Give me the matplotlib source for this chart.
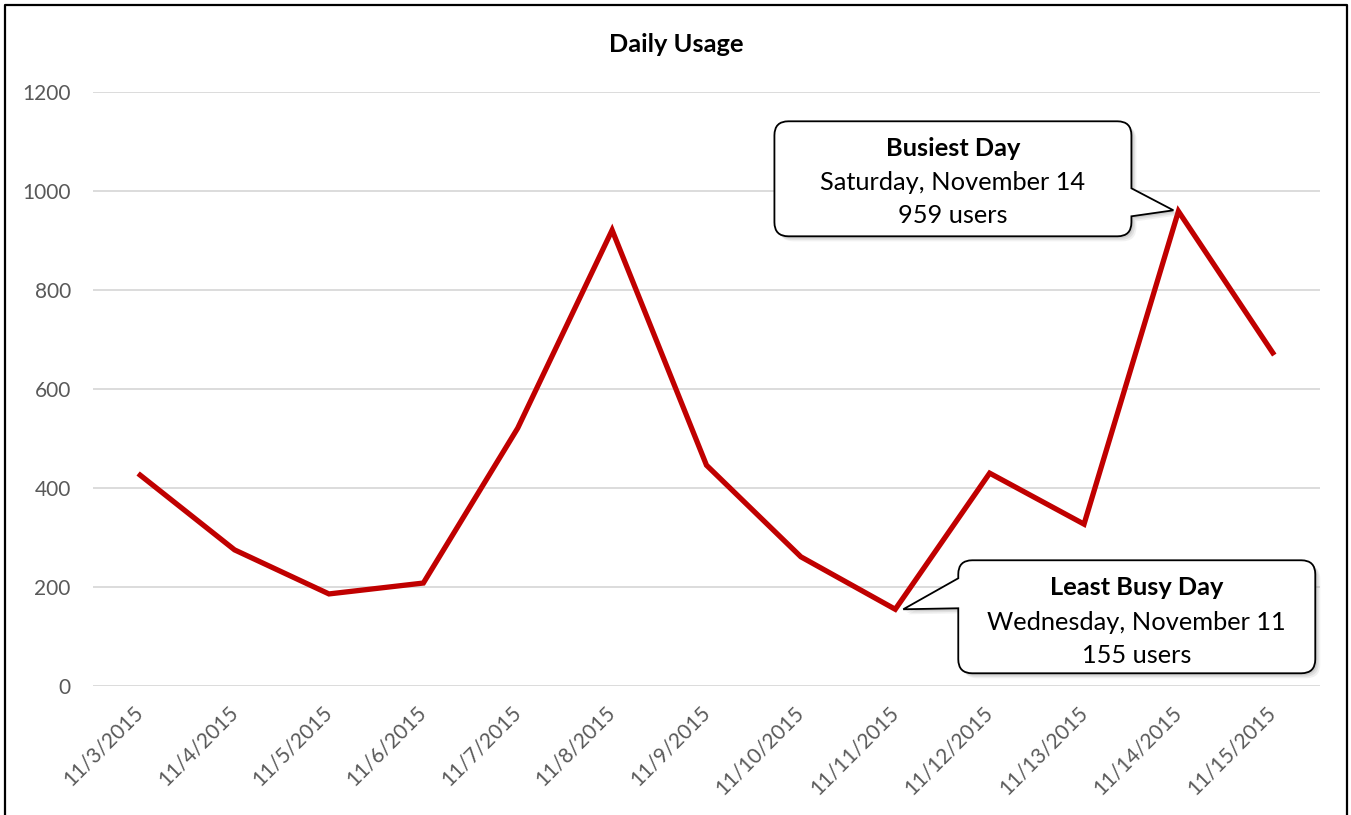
import matplotlib
matplotlib.use("Agg")
import matplotlib.pyplot as plt
from matplotlib.path import Path
from matplotlib.patches import PathPatch
from matplotlib.transforms import ScaledTranslation
from matplotlib.lines import Line2D

dates = ["11/3/2015", "11/4/2015", "11/5/2015", "11/6/2015", "11/7/2015",
         "11/8/2015", "11/9/2015", "11/10/2015", "11/11/2015", "11/12/2015",
         "11/13/2015", "11/14/2015", "11/15/2015"]
users = [426, 275, 186, 208, 521, 921, 446, 261, 155, 430, 327, 959, 673]
y_ticks = [0, 200, 400, 600, 800, 1000, 1200]

plt.rcParams['font.family'] = ['Lato', 'DejaVu Sans']

fig = plt.figure(figsize=(13.51, 8.15), dpi=100)
ax = fig.add_axes([93 / 1351, 1 - 686 / 815, 1227 / 1351, 594 / 815])

x = list(range(len(dates)))
ax.plot(x, users, color="#C00000", lw=3.8, solid_joinstyle="miter", zorder=3)

ax.set_xlim(-0.5, len(dates) - 0.5)
ax.set_ylim(0, 1200)
ax.set_yticks(y_ticks)
ax.set_xticks(x)
ax.set_xticklabels(dates, rotation=45, ha="right", va="center", rotation_mode="anchor")
ax.tick_params(axis="both", length=0, colors="#595959", labelsize=15)
ax.tick_params(axis="y", pad=16)
ax.tick_params(axis="x", pad=17)
ax.grid(axis="y", color="#D9D9D9", lw=1.3)
ax.set_axisbelow(True)
for s in ax.spines.values():
    s.set_visible(False)

fig.text(676 / 1351, 1 - 44 / 815, "Daily Usage", ha="center", va="center",
         fontsize=18.3, fontweight="bold", color="black")


def callout_path(x0, x1, y0, y1, r, side, b_lo, b_hi, tip):
    # rounded box with a pointer on one side, coords in pixels
    v = [(x0 + r, y0), (x1 - r, y0), (x1, y0), (x1, y0 + r)]
    c = [Path.MOVETO, Path.LINETO, Path.CURVE3, Path.CURVE3]
    if side == "right":
        v += [(x1, b_lo), tip, (x1, b_hi)]
        c += [Path.LINETO] * 3
    v += [(x1, y1 - r), (x1, y1), (x1 - r, y1), (x0 + r, y1), (x0, y1), (x0, y1 - r)]
    c += [Path.LINETO, Path.CURVE3, Path.CURVE3, Path.LINETO, Path.CURVE3, Path.CURVE3]
    if side == "left":
        v += [(x0, b_hi), tip, (x0, b_lo)]
        c += [Path.LINETO] * 3
    v += [(x0, y0 + r), (x0, y0), (x0 + r, y0), (x0 + r, y0)]
    c += [Path.LINETO, Path.CURVE3, Path.CURVE3, Path.CLOSEPOLY]
    return Path([(a / 100, b / 100) for a, b in v], c)


def callout(i, box, side, base, tip, lines):
    trans = fig.dpi_scale_trans + ScaledTranslation(i, users[i], ax.transData)
    p = callout_path(*box, 14, side, base[0], base[1], tip)
    for k, a in [(5, 0.10), (3.5, 0.15), (2, 0.2)]:
        sh = fig.dpi_scale_trans + ScaledTranslation(i, users[i], ax.transData) \
            + ScaledTranslation(k / 100, -k / 100, fig.dpi_scale_trans)
        ax.add_patch(PathPatch(p, transform=sh, fc="#7F7F7F", ec="none", alpha=a,
                               zorder=4, clip_on=False))
    ax.add_patch(PathPatch(p, transform=trans, fc="white", ec="black", lw=1.3,
                           zorder=5, clip_on=False))
    cx = (box[0] + box[1]) / 2 / 100
    for (txt, yy, bold) in lines:
        ax.text(cx, yy / 100, txt, transform=trans, ha="center", va="center",
                fontsize=18.3, fontweight="bold" if bold else "normal",
                color="black", zorder=6, clip_on=False)


callout(11, (-404, -47, -25, 90), "right", (-5, 23), (-5, 1),
        [("Busiest Day", 63, True), ("Saturday, November 14", 29, False),
         ("959 users", -4, False)])
callout(8, (63, 420, -64, 49), "left", (1, 31), (8, 0),
        [("Least Busy Day", 22, True), ("Wednesday, November 11", -13, False),
         ("155 users", -46, False)])

# chart border
fig.add_artist(Line2D([5 / 1351, 5 / 1351, 1347 / 1351, 1347 / 1351],
                      [0, 1 - 5 / 815, 1 - 5 / 815, 0],
                      transform=fig.transFigure, color="black", lw=1.6))

plt.savefig("out.png", dpi=100)
